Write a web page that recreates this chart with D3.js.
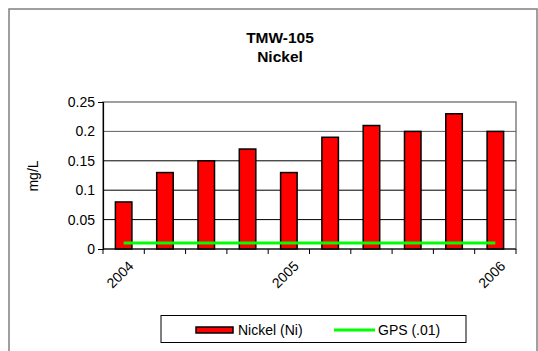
<!DOCTYPE html>
<html>
<head>
<meta charset="utf-8">
<script src="https://cdn.jsdelivr.net/npm/d3@7"></script>
<style>
  body { margin: 0; background: #fff; }
  text { font-family: Arial, "Liberation Sans", sans-serif; }
</style>
</head>
<body>
<script>
// Samples (one bar each), only some carry a year label
const samples = ["s1", "s2", "s3", "s4", "s5", "s6", "s7", "s8", "s9", "s10"];
const tickLabels = ["2004", "", "", "", "2005", "", "", "", "", "2006"];
const nickel = [0.08, 0.13, 0.15, 0.17, 0.13, 0.19, 0.21, 0.20, 0.23, 0.20];
const gps = 0.01;
const yTicks = [0, 0.05, 0.1, 0.15, 0.2, 0.25];

const width = 538;
const height = 351;
const margin = {top: 102, right: 22, bottom: 101, left: 103};

var svg = d3.select("body").append("svg")
    .attr("width", width)
    .attr("height", height);

// outer chart frame
svg.append("rect")
    .attr("x", 9).attr("y", 9)
    .attr("width", 528).attr("height", 360)
    .attr("fill", "none")
    .attr("stroke", "#808080")
    .attr("stroke-width", 1.5);

// title
svg.append("text")
    .attr("x", 280).attr("y", 43)
    .attr("text-anchor", "middle")
    .attr("font-size", 15.5).attr("font-weight", "bold")
    .text("TMW-105");
svg.append("text")
    .attr("x", 280).attr("y", 62)
    .attr("text-anchor", "middle")
    .attr("font-size", 15.5).attr("font-weight", "bold")
    .text("Nickel");

const w = width - margin.left - margin.right;
const h = height - margin.top - margin.bottom - 1;

var g = svg.append("g")
    .attr("transform", `translate(${margin.left}, ${margin.top})`);

var xscale = d3.scaleBand()
    .domain(samples)
    .range([0, w])
    .paddingInner(0.6)
    .paddingOuter(0.3);

var yscale = d3.scaleLinear()
    .domain([0, 0.25])
    .range([h, 0]);

// plot area border
g.append("rect")
    .attr("width", w).attr("height", h)
    .attr("fill", "#fff")
    .attr("stroke", "#808080")
    .attr("stroke-width", 1.5);

// gridlines
g.selectAll(".grid")
    .data(yTicks.slice(1, 5))
    .enter()
    .append("line")
    .attr("x1", 0).attr("x2", w)
    .attr("y1", d => yscale(d)).attr("y2", d => yscale(d))
    .attr("stroke", d => d == 0.2 ? "#606060" : "#000")
    .attr("stroke-width", 1);

// bars
g.selectAll(".bar")
    .data(nickel)
    .enter()
    .append("rect")
    .attr("x", (d, i) => xscale(samples[i]))
    .attr("y", d => yscale(d))
    .attr("width", xscale.bandwidth())
    .attr("height", d => yscale(0) - yscale(d))
    .attr("fill", "#ff0000")
    .attr("stroke", "#000")
    .attr("stroke-width", 1.5);

// GPS line
const cx = s => xscale(s) + xscale.bandwidth() / 2;
g.append("line")
    .attr("x1", cx(samples[0]))
    .attr("x2", cx(samples[samples.length - 1]))
    .attr("y1", yscale(gps)).attr("y2", yscale(gps))
    .attr("stroke", "#00ff00")
    .attr("stroke-width", 3);

// y axis
var yaxis = g.append("g")
    .call(d3.axisLeft(yscale).tickValues(yTicks).tickFormat(d => d3.format("")(d)).tickSize(5).tickPadding(3));
yaxis.select(".domain").attr("stroke", "#000").attr("stroke-width", 1.2);
yaxis.selectAll(".tick line").attr("x2", 1).attr("stroke", "#000");
yaxis.selectAll("text").attr("font-size", 14).attr("fill", "#000")
    .style("font-family", "Arial, 'Liberation Sans', sans-serif");

// x axis: ticks on category boundaries
var xa = g.append("g").attr("transform", `translate(0, ${h})`);
xa.append("line")
    .attr("x1", 0).attr("x2", w)
    .attr("stroke", "#000").attr("stroke-width", 1.2);
xa.selectAll(".xtick")
    .data(d3.range(samples.length + 1))
    .enter()
    .append("line")
    .attr("x1", i => i * xscale.step()).attr("x2", i => i * xscale.step())
    .attr("y1", 0).attr("y2", 5)
    .attr("stroke", "#000");
xa.selectAll(".xlabel")
    .data(samples)
    .enter()
    .append("text")
    .attr("transform", d => `translate(${cx(d) + 4}, 11) rotate(-45)`)
    .attr("text-anchor", "end")
    .attr("dy", "0.7em")
    .attr("font-size", 14)
    .text((d, i) => tickLabels[i]);

// y axis title
svg.append("text")
    .attr("transform", "translate(38, 176) rotate(-90)")
    .attr("text-anchor", "middle")
    .attr("font-size", 14)
    .text("mg/L");

// legend
var lg = svg.append("g");
lg.append("rect")
    .attr("x", 161).attr("y", 315.5)
    .attr("width", 305).attr("height", 27)
    .attr("fill", "#fff")
    .attr("stroke", "#000").attr("stroke-width", 1);
lg.append("rect")
    .attr("x", 196).attr("y", 327)
    .attr("width", 37).attr("height", 6)
    .attr("fill", "#ff0000")
    .attr("stroke", "#000").attr("stroke-width", 1.5);
lg.append("text")
    .attr("x", 238).attr("y", 335)
    .attr("font-size", 14)
    .text("Nickel (Ni)");
lg.append("line")
    .attr("x1", 334).attr("x2", 375)
    .attr("y1", 330).attr("y2", 330)
    .attr("stroke", "#00ff00").attr("stroke-width", 3);
lg.append("text")
    .attr("x", 378).attr("y", 335)
    .attr("font-size", 14)
    .text("GPS (.01)");
</script>
</body>
</html>
